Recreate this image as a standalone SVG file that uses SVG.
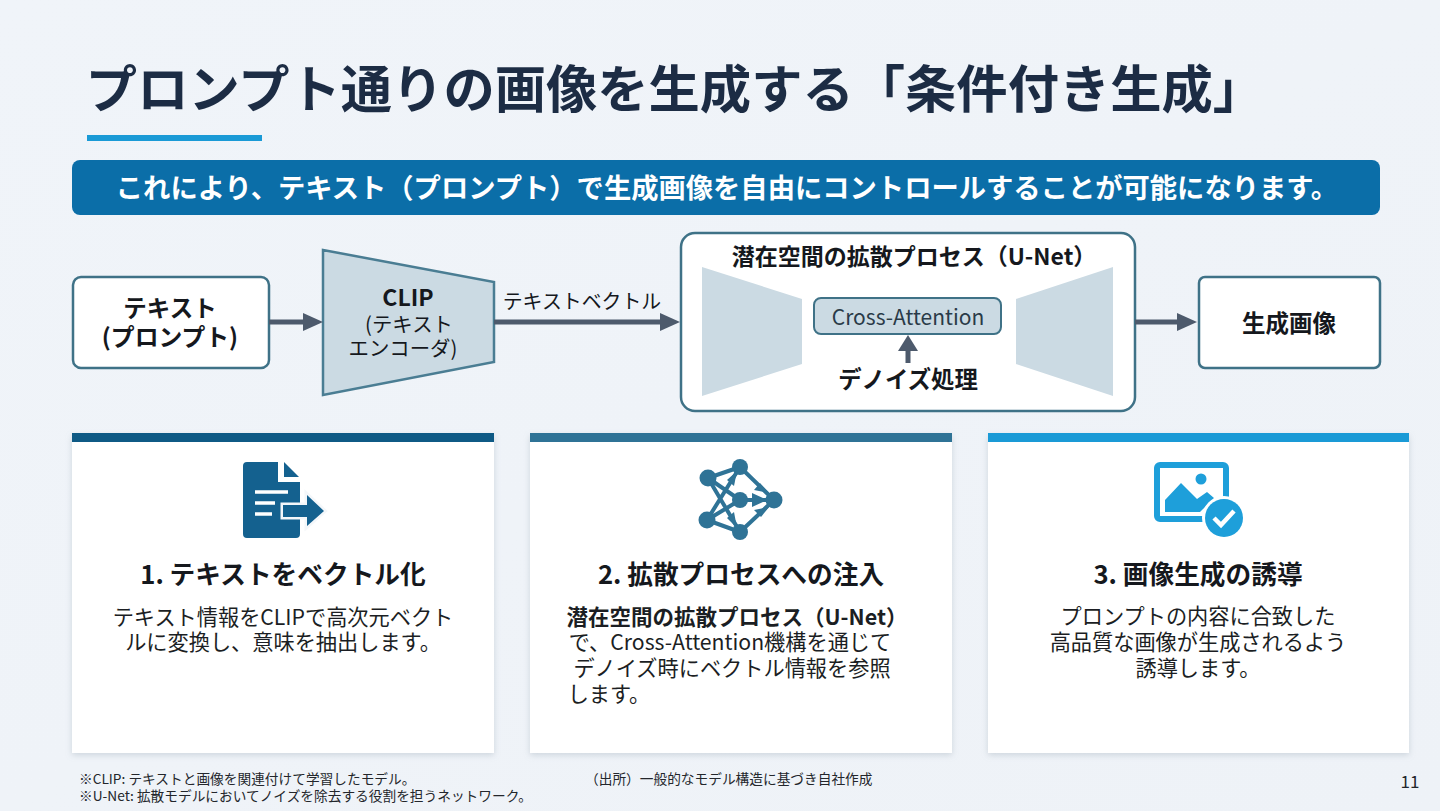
<svg xmlns="http://www.w3.org/2000/svg" width="1440" height="811" viewBox="0 0 1440 811">
<style>
text{font-family:"Noto Sans CJK JP","Noto Sans",sans-serif;fill:#15181d;text-anchor:middle}
.b{font-weight:700}
.box{fill:#fff;stroke:#3f7287;stroke-width:2.5}
.light{fill:#cbdae3}
.conn{stroke:#4d5a6c;stroke-width:5;fill:none}
.head{fill:#4d5a6c}
.card{fill:#fff;filter:url(#sh)}
.h3{font-size:25.7px;font-weight:700}
.p{font-size:21.2px;fill:#1b1e23}
.fn{font-size:13.7px;text-anchor:start;fill:#23262b}
</style>
<defs>
<filter id="sh" x="-5%" y="-5%" width="110%" height="110%"><feDropShadow dx="0" dy="2" stdDeviation="3" flood-color="#8a9aa8" flood-opacity=".35"/></filter>
<linearGradient id="bg" x1="0" y1="0" x2="1" y2="1"><stop offset="0" stop-color="#f0f4f9"/><stop offset="1" stop-color="#eef2f7"/></linearGradient>
</defs>
<rect width="1440" height="811" fill="url(#bg)"/>
<g id="header">
<text x="675" y="108" font-size="51.3" class="b" style="fill:#1c2c44">プロンプト通りの画像を生成する「条件付き生成」</text>
<rect x="87" y="135" width="175" height="6" fill="#1a9ad6"/>
</g>
<g id="banner">
<rect x="72" y="160" width="1308" height="55" rx="8" fill="#0b6ea8"/>
<text x="727" y="198" font-size="27.3" class="b" style="fill:#fff">これにより、テキスト（プロンプト）で生成画像を自由にコントロールすることが可能になります。</text>
</g>
<g id="node-text">
<rect class="box" x="73" y="277" width="196" height="91" rx="8"/>
<text x="170" y="317" font-size="23.5" class="b">テキスト</text>
<text x="170" y="346" font-size="23.8" class="b">(プロンプト)</text>
</g>
<g id="node-clip">
<path class="light" stroke="#4a7d93" stroke-width="2.5" d="M323 250L494 282V362L323 395Z"/>
<text x="408" y="306" font-size="23" class="b">CLIP</text>
<text x="409" y="332" font-size="20.4">(テキスト</text>
<text x="403" y="356" font-size="20.4">エンコーダ)</text>
</g>
<g id="node-unet">
<rect class="box" x="681" y="233" width="454" height="178" rx="14"/>
<text x="914" y="265" font-size="23" class="b">潜在空間の拡散プロセス（U-Net）</text>
<path class="light" d="M702 267L802 299V364L702 396Z"/>
<path class="light" d="M1113 267L1016 299V364L1113 396Z"/>
<rect x="814" y="298" width="187" height="36" rx="7" fill="#cbdae3" stroke="#3f7287" stroke-width="2"/>
<text x="908" y="325" font-size="21" style="fill:#2a3a48">Cross-Attention</text>
<text x="908" y="388" font-size="23.4" class="b">デノイズ処理</text>
</g>
<g id="node-output">
<rect class="box" x="1199" y="277" width="181" height="91" rx="6"/>
<text x="1289" y="332" font-size="23.5" class="b">生成画像</text>
</g>
<g id="connectors">
<path class="conn" d="M269 322H305"/><path class="head" d="M303 313L323 322L303 331Z"/>
<path class="conn" d="M494 322H662"/><path class="head" d="M660 313L680 322L660 331Z"/>
<path class="conn" d="M1135 322H1179"/><path class="head" d="M1177 313L1197 322L1177 331Z"/>
<path class="conn" d="M908 350V363"/><path class="head" d="M898 351L908 335L918 351Z"/>
</g>
<text x="582" y="309" font-size="19.9">テキストベクトル</text>
<g id="card-1">
<rect class="card" x="72" y="434" width="422" height="319"/>
<rect x="72" y="433" width="422" height="9" fill="#0f5a85"/>
<path fill="#14618f" d="M247 462H278V482H300V534Q300 538 296 538H247Q243 538 243 534V466Q243 462 247 462Z"/>
<path fill="#14618f" d="M284 462L299 477H284Z"/>
<path stroke="#fff" stroke-width="3.5" fill="none" d="M255 492H288M255 503H275M255 514H272"/>
<path fill="#14618f" stroke="#f4f7fa" stroke-width="5" paint-order="stroke" d="M283 505H307V495L324 511L307 526V517H283Z"/>
<text x="283" y="584" class="h3">1. テキストをベクトル化</text>
<text x="283" y="625" class="p">テキスト情報をCLIPで高次元ベクト</text>
<text x="283" y="650" class="p">ルに変換し、意味を抽出します。</text>
</g>
<g id="card-2">
<rect class="card" x="530" y="434" width="422" height="319"/>
<rect x="530" y="433" width="422" height="9" fill="#2f7396"/>
<g stroke="#2f7396" stroke-width="4" fill="none">
<path d="M708 478L740 467M708 478L740 500M708 478L740 532M707 520L740 467M707 520L740 500M707 520L740 532M740 467L774 500M740 500H774M740 532L774 500"/>
</g>
<g fill="#2f7396">
<circle cx="708" cy="478" r="8.5"/><circle cx="707" cy="520" r="8.5"/><circle cx="740" cy="467" r="8"/><circle cx="740" cy="500" r="8"/><circle cx="740" cy="532" r="8"/><circle cx="774" cy="500" r="8.5"/>
<path d="M737 471L734 486L727 480Z"/><path d="M737 528L727 518L734 512Z"/><path d="M769 493L754 490L760 483Z"/><path d="M767 500L752 507V493Z"/><path d="M769 507L761 517L754 510Z"/>
</g>
<text x="741" y="584" class="h3">2. 拡散プロセスへの注入</text>
<text x="737" y="625" class="p" font-size="21.5" style="font-size:21.5px" font-weight="700">潜在空間の拡散プロセス（U-Net）</text>
<text x="730" y="650" class="p">で、Cross-Attention機構を通じて</text>
<text x="732" y="676" class="p">デノイズ時にベクトル情報を参照</text>
<text x="609" y="702" class="p">します。</text>
</g>
<g id="card-3">
<rect class="card" x="988" y="434" width="421" height="319"/>
<rect x="988" y="433" width="421" height="9" fill="#1a9ad6"/>
<rect x="1157" y="465" width="69" height="54" rx="3" fill="none" stroke="#1e9fda" stroke-width="6"/>
<circle cx="1201" cy="479" r="5.5" fill="#1e9fda"/>
<path fill="#1e9fda" d="M1165 512V500L1181 483L1197 499L1207 492L1214 498L1200 512Z"/>
<circle cx="1224" cy="518" r="22" fill="#fff"/>
<circle cx="1224" cy="518" r="19" fill="#1e9fda"/>
<path d="M1214 518L1221 525L1234 511" fill="none" stroke="#fff" stroke-width="4.5"/>
<text x="1198" y="584" class="h3">3. 画像生成の誘導</text>
<text x="1198" y="624" class="p">プロンプトの内容に合致した</text>
<text x="1198" y="650" class="p">高品質な画像が生成されるよう</text>
<text x="1198" y="676" class="p">誘導します。</text>
</g>
<g id="footer">
<text x="79" y="784" class="fn">※CLIP: テキストと画像を関連付けて学習したモデル。</text>
<text x="79" y="801" class="fn">※U-Net: 拡散モデルにおいてノイズを除去する役割を担うネットワーク。</text>
<text x="585" y="784" class="fn">（出所）一般的なモデル構造に基づき自社作成</text>
<text x="1410" y="788" font-size="17" style="fill:#23262b">11</text>
</g>
</svg>
